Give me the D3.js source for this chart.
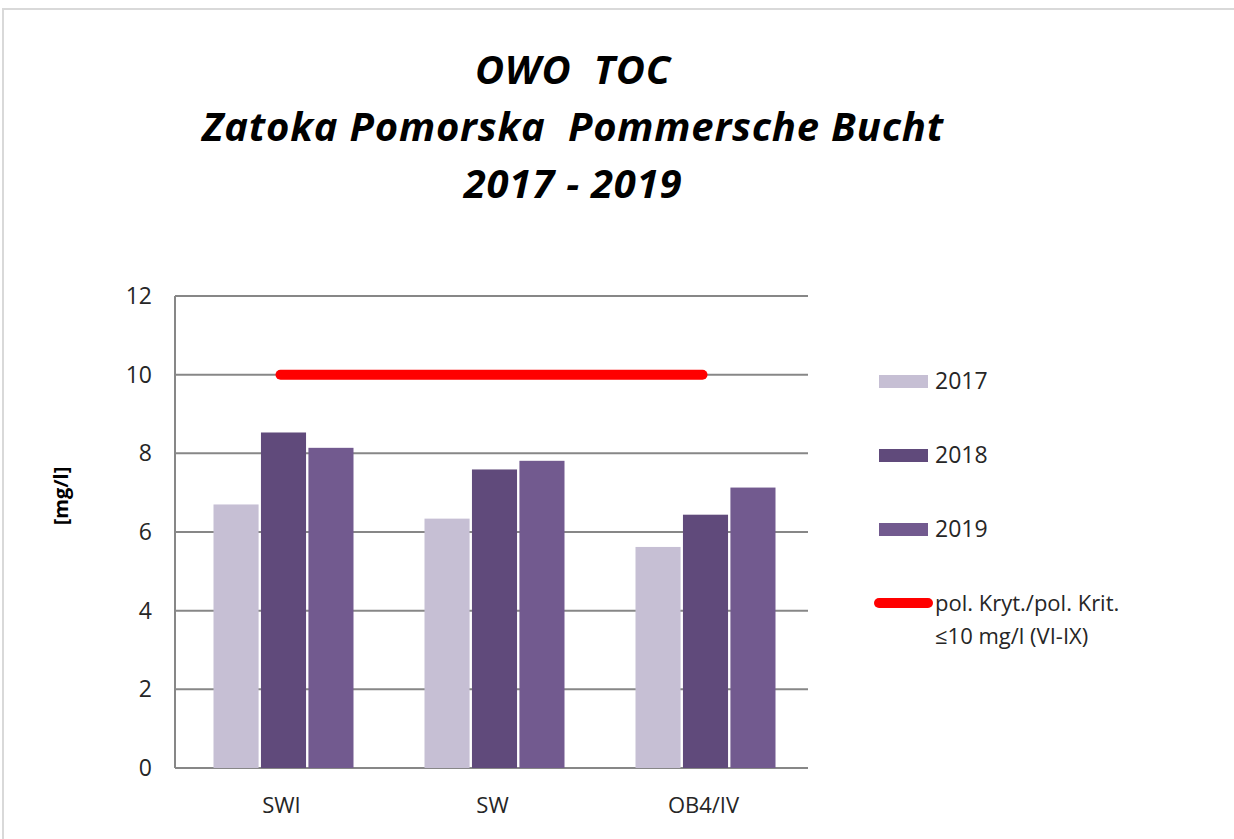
<!DOCTYPE html>
<html>
<head>
<meta charset="utf-8">
<script src="https://cdn.jsdelivr.net/npm/d3@7"></script>
<style>
  body { margin: 0; background: #fff; }
  svg { display: block; }
  text { white-space: pre; }
</style>
</head>
<body>
<svg id="chart" width="1234" height="839"></svg>
<script>
// data
let categories = ['SWI', 'SW', 'OB4/IV']
let years = ['2017', '2018', '2019']
let values2017 = [6.70, 6.34, 5.62]
let values2018 = [8.53, 7.59, 6.44]
let values2019 = [8.14, 7.81, 7.13]
let limitValues = [10, 10, 10]
let yTicks = [0, 2, 4, 6, 8, 10, 12]
let titleLines = ['OWO  TOC', 'Zatoka Pomorska  Pommersche Bucht', '2017 - 2019']
let limitLabel = ['pol. Kryt./pol. Krit.', '≤10 mg/l (VI-IX)']

let series = [values2017, values2018, values2019]
let colors = ['#c6bfd4', '#604a7b', '#725a8f']
let font = '"Open Sans", sans-serif'

let svg = d3.select('#chart')

// outer frame
svg.append('rect').attr('x', 3).attr('y', 9).attr('width', 1240).attr('height', 840)
    .attr('fill', 'none').attr('stroke', '#d9d9d9').attr('stroke-width', 2)

// title
svg.append('g').selectAll('text').data(titleLines).enter().append('text')
    .attr('xml:space', 'preserve')
    .attr('x', 573).attr('y', (d, i) => 84 + i * 57)
    .attr('text-anchor', 'middle')
    .attr('font-family', font).attr('font-size', 40)
    .attr('font-weight', 700).attr('font-style', 'italic')
    .attr('letter-spacing', 0.8)
    .attr('fill', '#000')
    .text(d => d)

// scales
let plotLeft = 175, plotRight = 808, plotTop = 296, plotBottom = 768
let x = d3.scaleBand().domain(categories).range([plotLeft, plotRight])
let bw = x.bandwidth()
let xs = d3.scaleBand().domain(years).range([(bw - 140) / 2 + 3, (bw + 140) / 2 + 3]).paddingInner(0.05)
let y = d3.scaleLinear().domain([0, 12]).range([plotBottom, plotTop])

// gridlines
svg.append('g').selectAll('line').data(yTicks).enter().append('line')
    .attr('x1', plotLeft).attr('x2', plotRight)
    .attr('y1', d => y(d)).attr('y2', d => y(d))
    .attr('stroke', '#878787').attr('stroke-width', 2)

// y axis line
svg.append('line').attr('x1', plotLeft).attr('x2', plotLeft).attr('y1', y(12)).attr('y2', y(0))
    .attr('stroke', '#878787').attr('stroke-width', 2)

// y tick labels
let yAxis = svg.append('g').attr('transform', 'translate(' + (plotLeft - 23) + ',0)')
    .call(d3.axisLeft(y).tickValues(yTicks).tickSize(0).tickPadding(0))
yAxis.select('.domain').remove()
yAxis.selectAll('text').attr('font-family', font).attr('font-size', 23).attr('fill', '#262626')

// y title
svg.append('text').attr('transform', 'translate(68,496) rotate(-90)')
    .attr('text-anchor', 'middle')
    .attr('font-family', font).attr('font-size', 20).attr('font-weight', 700).attr('fill', '#000')
    .text('[mg/l]')

// bars
series.forEach((vals, s) => {
    svg.append('g').selectAll('rect').data(vals).enter().append('rect')
        .attr('x', (d, i) => x(categories[i]) + xs(years[s]))
        .attr('y', d => y(d))
        .attr('width', xs.bandwidth())
        .attr('height', d => y(0) - y(d))
        .attr('fill', colors[s])
})

// x labels
let xAxis = svg.append('g').attr('transform', 'translate(1,797)')
    .call(d3.axisBottom(x).tickSize(0).tickPadding(0))
xAxis.select('.domain').remove()
xAxis.selectAll('text').attr('font-family', font).attr('font-size', 22).attr('fill', '#262626')

// limit line
let line = d3.line()
    .x((d, i) => x(categories[i]) + bw / 2)
    .y(d => y(d))
svg.append('path').datum(limitValues)
    .attr('d', line)
    .attr('fill', 'none').attr('stroke', '#ff0000')
    .attr('stroke-width', 10).attr('stroke-linecap', 'round')

// legend
let legend = svg.append('g')
years.forEach((yr, i) => {
    let ly = 381 + i * 74
    legend.append('rect').attr('x', 879).attr('y', ly - 6).attr('width', 49).attr('height', 13)
        .attr('fill', colors[i])
    legend.append('text').attr('x', 935).attr('y', ly + 8)
        .attr('font-family', font).attr('font-size', 23).attr('fill', '#262626')
        .text(yr)
})
legend.append('line').attr('x1', 879).attr('x2', 928).attr('y1', 603).attr('y2', 603)
    .attr('stroke', '#ff0000').attr('stroke-width', 10).attr('stroke-linecap', 'round')
legend.selectAll('text.lim').data(limitLabel).enter().append('text')
    .attr('class', 'lim')
    .attr('x', 935).attr('y', (d, i) => 611 + i * 33)
    .attr('font-family', font).attr('font-size', 22).attr('fill', '#262626')
    .text(d => d)
</script>
</body>
</html>
